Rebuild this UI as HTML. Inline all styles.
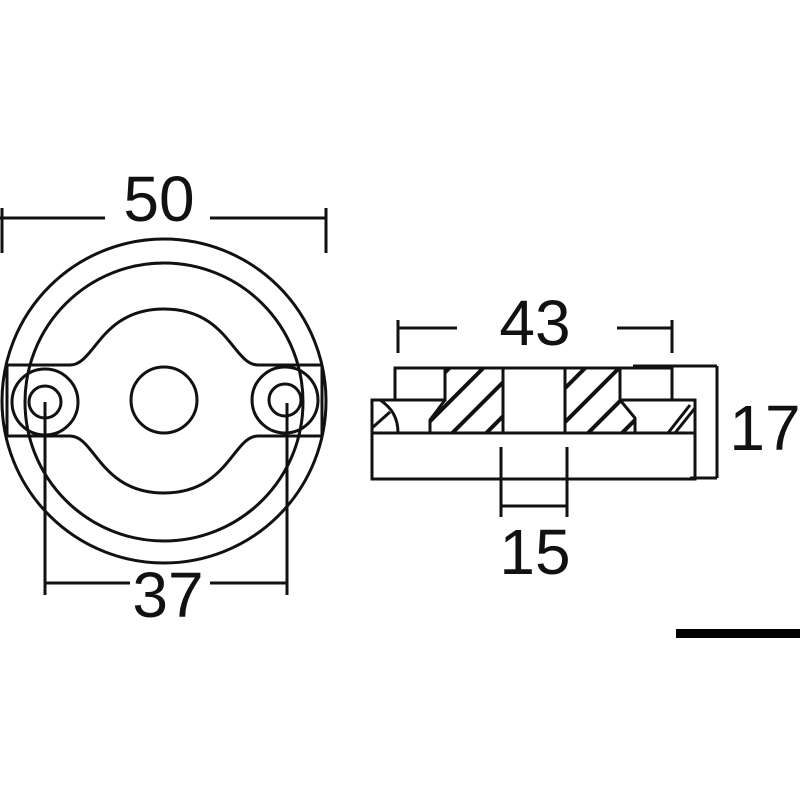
<!DOCTYPE html>
<html><head><style>
html,body{margin:0;padding:0;background:#fff;}
svg{display:block}
text{font-family:"Liberation Sans",sans-serif;font-size:64px;fill:#111;}
</style></head><body>
<svg width="800" height="800" viewBox="0 0 800 800" xmlns="http://www.w3.org/2000/svg">
<defs>
<pattern id="h" patternUnits="userSpaceOnUse" width="24" height="24" patternTransform="rotate(45)">
<line x1="2" y1="0" x2="2" y2="24" stroke="#111" stroke-width="4"/>
</pattern>
</defs>
<g fill="none" stroke="#111" stroke-width="3">
<line x1="0" y1="218" x2="105" y2="218"/>
<line x1="210" y1="218" x2="326" y2="218"/>
<line x1="2" y1="208" x2="2" y2="253"/>
<line x1="326" y1="208" x2="326" y2="253"/>
<circle cx="164" cy="401" r="162"/>
<circle cx="164" cy="402" r="139"/>
<line x1="7" y1="365" x2="7" y2="436"/>
<line x1="322" y1="365" x2="322" y2="436"/>
<path d="M7,365 L70,365 C95,365 100,309 164,309 C228,309 233,365 258,365 L322,365"/>
<path d="M7,436 L70,436 C95,436 100,493 164,493 C228,493 233,436 258,436 L322,436"/>
<circle cx="164" cy="400" r="33"/>
<circle cx="45" cy="402" r="33"/>
<circle cx="45" cy="402" r="16"/>
<circle cx="285" cy="400" r="33"/>
<circle cx="285" cy="400" r="16"/>
<line x1="45" y1="402" x2="45" y2="595"/>
<line x1="287" y1="403" x2="287" y2="595"/>
<line x1="45" y1="583" x2="130" y2="583"/>
<line x1="210" y1="583" x2="287" y2="583"/>
<line x1="398" y1="320" x2="398" y2="353"/>
<line x1="672" y1="320" x2="672" y2="353"/>
<line x1="398" y1="328" x2="457" y2="328"/>
<line x1="617" y1="328" x2="672" y2="328"/>
<polygon points="445,368 503,368 503,433 430,433 430,420 445,400" fill="url(#h)"/>
<polygon points="565,368 620,368 620,400 635,418 635,433 565,433" fill="url(#h)"/>
<line x1="395" y1="368" x2="672" y2="368"/>
<rect x="395" y="368" width="50" height="32"/>
<rect x="620" y="368" width="52" height="32"/>
<path d="M445,400 L372,400 L372,479 L695,479 L695,400 L620,400"/>
<line x1="372" y1="433" x2="695" y2="433"/>
<path d="M380,400 C392,408 398,418 398,433"/>
<path d="M372,428 L390,412"/>
<path d="M668,433 L690,405 M675,433 L695,408"/>
<line x1="633" y1="366" x2="717" y2="366"/>
<line x1="717" y1="366" x2="717" y2="478"/>
<line x1="690" y1="478" x2="717" y2="478"/>
<line x1="501" y1="447" x2="501" y2="517"/>
<line x1="567" y1="447" x2="567" y2="517"/>
<line x1="501" y1="506" x2="567" y2="506"/>
</g>
<rect x="676" y="629" width="124" height="9" fill="#000"/>
<text x="159" y="221" text-anchor="middle">50</text>
<text x="168" y="617" text-anchor="middle">37</text>
<text x="535" y="345" text-anchor="middle">43</text>
<text x="535" y="574" text-anchor="middle">15</text>
<text x="765" y="450" text-anchor="middle">17</text>
</svg>
</body></html>
